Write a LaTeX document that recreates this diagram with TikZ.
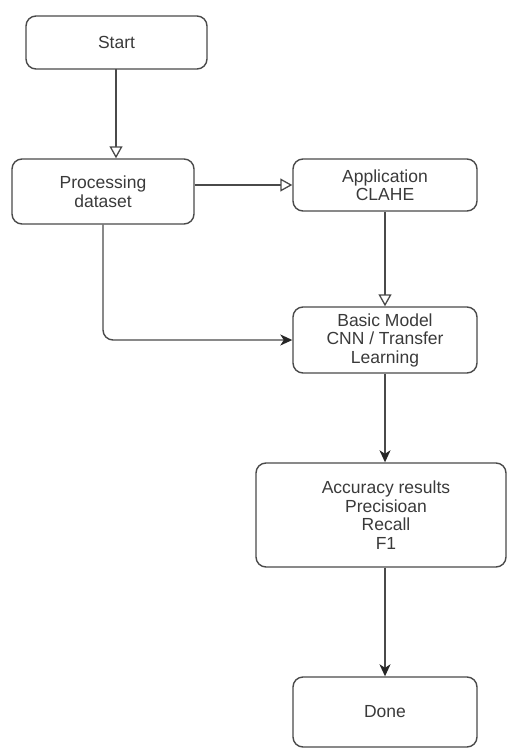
\documentclass[tikz,border=0pt]{standalone}
\usepackage{fontspec}
\setmainfont{Liberation Sans}
\usetikzlibrary{arrows.meta}
\definecolor{linec}{HTML}{4A4A4A}
\definecolor{textc}{HTML}{3A3A3A}
\begin{document}
\begin{tikzpicture}[x=1pt,y=1pt,
  box/.style={draw=linec, line width=1.4pt, rounded corners=10pt, rectangle,
    align=center, text=textc, inner sep=0pt,
    font=\fontsize{17.5}{18.5}\selectfont},
  conn/.style={draw=linec, line width=1.4pt},
  opentip/.style={-{Triangle[open, length=12pt, width=13pt, line width=1.3pt]}},
  filltip/.style={-{Stealth[length=12pt, width=11pt, inset=3.5pt, color=black!85]}}]
\useasboundingbox (0,0) rectangle (507,-749);
\node[box, minimum width=181pt, minimum height=53pt] (start) at (116.5,-42.5) {Start};
\node[box, minimum width=182pt, minimum height=65pt] (proc) at (103,-191.5) {Processing\\dataset};
\node[box, minimum width=184pt, minimum height=52pt] (app) at (385,-185) {Application\\CLAHE};
\node[box, minimum width=184pt, minimum height=66pt] (basic) at (385,-340) {Basic Model\\CNN / Transfer\\Learning};
\node[box, minimum width=250pt, minimum height=104pt] (acc) at (381,-515) {\hspace*{10pt}Accuracy results\\\hspace*{10pt}Precisioan\\\hspace*{10pt}Recall\\\hspace*{10pt}F1};
\node[box, minimum width=184pt, minimum height=70pt] (done) at (385,-712) {Done};
\coordinate (s1) at (116,-69);
\draw[conn, opentip] (s1) -- (s1 |- proc.north);
\draw[conn, opentip] (app.west -| proc.east) -- (app.west);
\draw[conn, opentip] (app.south) -- (basic.north);
\draw[conn, filltip, rounded corners=10pt] (proc.south) |- (basic.west);
\draw[conn, filltip] (basic.south) -- (basic.south |- acc.north);
\draw[conn, filltip] (done.north |- acc.south) -- (done.north);
\end{tikzpicture}
\end{document}
